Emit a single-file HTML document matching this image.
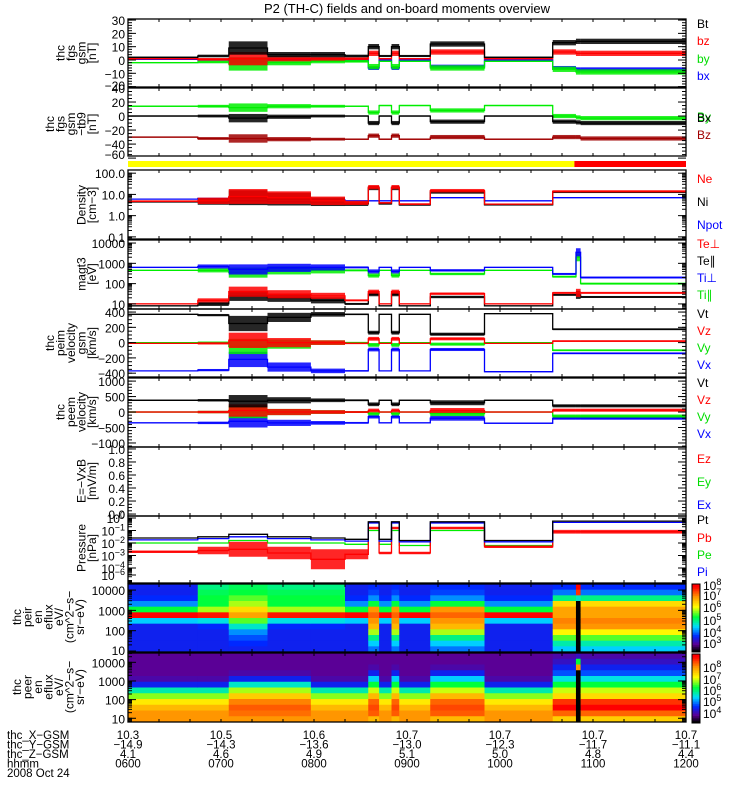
<!DOCTYPE html>
<html><head><meta charset="utf-8">
<style>
html,body{margin:0;padding:0;background:#fff;}
svg{display:block;font-family:"Liberation Sans",sans-serif;}
</style></head>
<body>
<svg id="chart" width="750" height="800" viewBox="0 0 750 800" xmlns="http://www.w3.org/2000/svg">
<text x="407" y="13" font-size="13" text-anchor="middle">P2 (TH-C) fields and on-board moments overview</text>
</svg>
<script>
// ---------- data (segment start minutes after 0600) ----------
const segStart = [0,45,65,90,118,140,155,162,170,175,195,230,274,289,292];
const segEnd = 360;
// fgs gsm [nT]
const bt = [2,3,9,4,4,3,10,3,10,3,12,2,13,14,14];
const btAmp = [0.5,1,5,2,2,1,2,0.8,2,0.8,2,0.5,2,2,2];
const bz = [1,0.5,1,1,1,1,5,1,5,1,6,1,6,5,5];
const bzAmp = [0.5,1,5,2,1.5,1,2,0.5,2,0.5,2,0.5,2,2,2];
const by = [-2,-1.5,-3,-2,-1,-1,-5,-1,-5,-1,-6,-1,-7,-9,-9];
const byAmp = [0.5,1,5,2,1.5,1,2,0.5,2,0.5,2,0.5,2,2,2];
const bx = [0.5,0,-1,0,0,0,-6,0,-6,0,-5,0,-6,-7,-7];
const bxAmp = [0.3,0.5,3,1,1,0.5,1.5,0.3,1.5,0.3,1.5,0.3,1.5,1.5,1.5];
// fgs gsm - t89 [nT]
const dBx = [0,0,-3,-1,0,0,-10,0,-10,0,-8,0,-8,-9,-10];
const dBy = [14,14,12,14,14,14,5,15,5,15,8,15,0,-2,-3];
const dBz = [-30,-32,-32,-33,-33,-33,-28,-33,-28,-33,-30,-33,-30,-30,-32];
const dAmp = [1,2,6,3,2,1,3,1,3,1,3,1,3,3,3];
// density [cm-3]
const ne = [4.8,5,8,7,5,4,22,4,22,3.5,15,3.5,14,14,14];
const ni = [4.5,4.6,7,6,4.5,3.6,20,3.6,20,3.2,13,3.2,13,13,13];
const npot = [6,6.5,5,4.5,5.5,5,5,5,5,5,7,5,7,7,7];
const densAmp = [0.04,0.15,0.35,0.3,0.2,0.1,0.1,0.04,0.1,0.04,0.08,0.03,0.05,0.05,0.05];
// temperatures [eV]
const tiPerp = [630,700,500,600,630,630,400,630,400,630,450,630,300,3500,200];
const tiPar = [450,450,350,450,450,450,250,450,250,450,300,450,220,2000,100];
const tePerp = [10,15,40,30,25,15,40,10,40,10,32,10,35,35,35];
const tePar = [8,10,25,20,15,10,30,8,30,8,22,8,28,28,22];
const tempAmp = [0.03,0.1,0.25,0.2,0.15,0.05,0.1,0.03,0.1,0.03,0.06,0.03,0.05,0.2,0.05];
// ion velocity [km/s]
const viT = [370,360,250,330,370,370,130,370,130,370,110,380,175,175,175];
const viZ = [-10,-10,30,0,0,-10,50,-10,50,-10,50,-10,20,20,20];
const viY = [0,0,-50,-20,0,0,-30,0,-30,0,-20,0,-100,-100,-100];
const viX = [-370,-360,-220,-320,-370,-370,-90,-370,-90,-370,-90,-380,-140,-140,-140];
const viAmp = [5,15,100,60,30,10,25,5,25,5,20,5,12,12,12];
// electron velocity [km/s]
const veT = [380,380,350,380,380,380,250,380,250,380,300,380,200,200,200];
const veZ = [0,0,50,0,0,0,50,0,50,0,50,0,60,60,60];
const veY = [0,0,0,0,0,0,-50,0,-50,0,-50,0,-130,-130,-130];
const veX = [-350,-350,-300,-350,-350,-350,-150,-350,-150,-350,-200,-360,-200,-200,-200];
const veAmp = [20,40,200,100,60,30,60,20,60,20,80,20,50,50,50];
// pressure [nPa] as log10 exponents
const ptExp = [-1.6,-1.5,-1.3,-1.5,-1.6,-1.7,-0.3,-1.7,-0.3,-1.8,-0.3,-1.8,-0.25,-0.25,-0.25];
const piExp = [-1.75,-1.65,-1.5,-1.65,-1.75,-1.85,-0.4,-1.85,-0.4,-1.9,-0.4,-1.9,-0.35,-0.35,-0.35];
const peExp = [-2.0,-2.0,-1.8,-2.0,-2.0,-2.1,-1.0,-2.1,-1.0,-2.2,-1.0,-2.2,-1.1,-1.1,-1.1];
const pbExp = [-2.7,-2.6,-2.5,-2.8,-3.3,-2.9,-0.8,-2.8,-0.8,-2.8,-0.8,-2.3,-1.1,-1.1,-1.1];
const pbAmp = [0.1,0.3,0.6,0.5,0.8,0.4,0.1,0.1,0.1,0.1,0.1,0.1,0.15,0.15,0.15];
// spectrogram profiles (normalized colour level per energy bin, top=high energy)
const ionProfiles = {
  sw:   [0.2,0.2,0.22,0.3,0.5,0.95,0.35,0.2,0.2,0.2,0.2,0.2],
  fore: [0.45,0.48,0.5,0.5,0.6,0.93,0.38,0.22,0.2,0.2,0.2,0.2],
  turb: [0.48,0.5,0.55,0.6,0.7,0.78,0.55,0.4,0.3,0.25,0.22,0.2],
  sh:   [0.22,0.24,0.3,0.5,0.8,0.85,0.8,0.75,0.6,0.45,0.35,0.28],
  sh4:  [0.22,0.28,0.45,0.7,0.78,0.78,0.82,0.8,0.66,0.55,0.42,0.35],
  gap:  [0.95,0.9,0.4,0,0,0,0,0,0,0,0,0]
};
const eleProfiles = {
  sw:   [0.1,0.1,0.1,0.1,0.12,0.2,0.42,0.58,0.68,0.75,0.8,0.8],
  turb: [0.1,0.1,0.1,0.12,0.2,0.4,0.6,0.72,0.82,0.86,0.84,0.8],
  sh:   [0.1,0.1,0.12,0.2,0.35,0.5,0.62,0.75,0.85,0.88,0.86,0.75],
  sh4:  [0.12,0.15,0.2,0.25,0.38,0.5,0.62,0.7,0.9,0.95,0.85,0.72],
  gap:  [0.15,0.5,0.8,0,0,0,0,0,0,0,0,0]
};
const ionSeg = ['sw','fore','turb','fore','fore','sw','sh','sw','sh','sw','sh','sw','sh4','gap','sh4'];
const eleSeg = ['sw','sw','turb','turb','sw','sw','sh','sw','sh','sw','sh','sw','sh4','gap','sh4'];
// ephemeris
const hhmm = ['0600','0700','0800','0900','1000','1100','1200'];
const xGsm = ['10.3','10.5','10.6','10.7','10.7','10.7','10.7'];
const yGsm = ['\u221214.9','\u221214.3','\u221213.6','\u221213.0','\u221212.3','\u221211.7','\u221211.1'];
const zGsm = ['4.1','4.6','4.9','5.1','5.0','4.8','4.4'];

// ---------- layout ----------
const NS = 'http://www.w3.org/2000/svg';
const svg = document.getElementById('chart');
const X0 = 128, X1 = 686;
const xOf = m => X0 + (m/360)*(X1-X0);
function el(tag, attrs, parent){ const e=document.createElementNS(NS,tag); for(const k in attrs) e.setAttribute(k,attrs[k]); (parent||svg).appendChild(e); return e; }
function txt(s,x,y,attrs,parent){ const t=el('text',Object.assign({x:x,y:y,'font-size':12},attrs||{}),parent); t.textContent=s; return t; }

function panel(name, top, bot, dom, isLog){
  const g = el('g',{});
  
  
  const cid = 'clip-'+name;
  const cp = el('clipPath',{id:cid},g); el('rect',{x:X0,y:top,width:X1-X0,height:bot-top},cp);
  const inner = el('g',{'clip-path':'url(#'+cid+')'},g);
  const yOf = v => { const u = isLog ? Math.log10(v) : v; return bot - (u-dom[0])/(dom[1]-dom[0])*(bot-top); };
  const yExp = u => bot - (u-dom[0])/(dom[1]-dom[0])*(bot-top);
  return {g, inner, top, bot, yOf, yExp, dom, isLog};
}
function series(p, name, vals, amp, color, mode){
  // mode: 'lin' value/amp linear ; 'log' value linear, amp log ; 'exp' value exponent
  const gy = el('g',{},p.inner);
  
  
  let d='';
  for(let i=0;i<vals.length;i++){
    const x0=xOf(segStart[i]), x1=xOf(i+1<segStart.length?segStart[i+1]:segEnd);
    let yv, ya, yb;
    if(mode==='exp'){ yv=p.yExp(vals[i]); if(amp){ya=p.yExp(vals[i]+amp[i]); yb=p.yExp(vals[i]-amp[i]);} }
    else if(mode==='log'){ const u=Math.log10(vals[i]); yv=p.yExp(u); if(amp){ya=p.yExp(u+amp[i]); yb=p.yExp(u-amp[i]);} }
    else { yv=p.yOf(vals[i]); if(amp){ya=p.yOf(vals[i]+amp[i]); yb=p.yOf(vals[i]-amp[i]);} }
    if(amp){
      const r = el('rect',{x:x0,y:Math.min(ya,yb),width:x1-x0,height:Math.max(1,Math.abs(yb-ya)),fill:color,opacity:0.85},gy);
      
      
    }
    d += (i===0?'M':'L')+x0.toFixed(1)+' '+yv.toFixed(1)+' H'+x1.toFixed(1)+' ';
  }
  el('path',{d:d,fill:'none',stroke:color,'stroke-width':1.3},gy);
}
function frame(p, ticks, minors){
  el('rect',{x:X0,y:p.top,width:X1-X0,height:p.bot-p.top,fill:'none',stroke:'#000','stroke-width':1.3},p.g);
  for(let m=20;m<360;m+=20){
    const x=xOf(m);
    el('line',{x1:x,y1:p.top,x2:x,y2:p.top+3,stroke:'#000'},p.g);
    el('line',{x1:x,y1:p.bot,x2:x,y2:p.bot-3,stroke:'#000'},p.g);
  }
  (minors||[]).forEach(y=>{ if(y>p.top&&y<p.bot){
    el('line',{x1:X0,y1:y,x2:X0+4,y2:y,stroke:'#000'},p.g);
    el('line',{x1:X1,y1:y,x2:X1-4,y2:y,stroke:'#000'},p.g);}});
  ticks.forEach(t=>{
    const y=t.y;
    el('line',{x1:X0,y1:y,x2:X0+8,y2:y,stroke:'#000'},p.g);
    el('line',{x1:X1,y1:y,x2:X1-8,y2:y,stroke:'#000'},p.g);
    const lab = txt(t.label,125,Math.min(y+5,p.bot+3),{'text-anchor':'end'},p.g);
    
    
    if(t.sup){ const s=el('tspan',{dy:-5,'font-size':9},lab); s.textContent=t.sup; }
  });
}
function linTicks(p, vals){ return vals.map(v=>({y:p.yOf(v),label:String(v).replace('-','\u2212')})); }
function linMinor(p, step){ const a=[]; for(let v=Math.ceil(p.dom[0]/step)*step; v<=p.dom[1]; v+=step) a.push(p.yOf(v)); return a; }
function logMinor(p){ const a=[]; for(let e=Math.floor(p.dom[0]);e<=Math.ceil(p.dom[1]);e++) for(let k=1;k<10;k++) a.push(p.yExp(e+Math.log10(k))); return a; }
function ylabel(lines, cy, name, lastX){
  const g=el('g',{});
  
  
  const n=lines.length;
  lines.forEach((s,i)=>{ const x=lastX-(n-1-i)*10.5; txt(s,x,cy,{'text-anchor':'middle',transform:'rotate(-90 '+x+' '+cy+')','font-size':12},g); });
}
function legend(items){
  items.forEach(it=>{ const t=txt(it[0],697,it[2],{fill:it[1],'font-size':12});
    
     });
}

// ---- Panel 1: fgs gsm ----
const p1 = panel('fgs-gsm-panel',19,87,[-20.3,30.8],false);
series(p1,'bx-series',bx,bxAmp,'#0000ff','lin');
series(p1,'by-series',by,byAmp,'#00ee00','lin');
series(p1,'bz-series',bz,bzAmp,'#ff0000','lin');
series(p1,'bt-series',bt,btAmp,'#000000','lin');
frame(p1,linTicks(p1,[30,20,10,0,-10,-20]),linMinor(p1,2));
ylabel(['thc','fgs','gsm','[nT]'],53,'fgs-y-axis-title',96);
legend([['Bt','#000',28,'bt'],['bz','#ff0000',45,'bz'],['by','#00dd00',63,'by'],['bx','#0000ff',80,'bx']]);

// ---- Panel 2: fgs - t89 ----
const p2 = panel('fgs-t89-panel',88,156,[-57,40],false);
series(p2,'dby-series',dBy,dAmp,'#00ee00','lin');
series(p2,'dbx-series',dBx,dAmp,'#000000','lin');
series(p2,'dbz-series',dBz,dAmp,'#a00000','lin');
frame(p2,linTicks(p2,[40,20,0,-20,-40,-60]),linMinor(p2,5));
ylabel(['thc','fgs','gsm','\u2212tb9','[nT]'],124,'fgs-t89-y-axis-title',96);
legend([['By','#00dd00',121,'by-t89'],['Bx','#000',122,'bx-t89'],['Bz','#a00000',139,'bz-t89']]);

// ---- mode bar ----
const mb=el('g',{});  
el('rect',{x:X0,y:161,width:xOf(288)-X0,height:6,fill:'#ffff00'},mb);
el('rect',{x:xOf(288),y:161,width:X1-xOf(288),height:6,fill:'#ff0000'},mb);

// ---- Panel 3: density ----
const p3 = panel('density-panel',170,239,[-1.1,2.15],true);
series(p3,'npot-series',npot,null,'#0000ff','log');
series(p3,'ni-series',ni,densAmp,'#000000','log');
series(p3,'ne-series',ne,densAmp,'#ff0000','log');
frame(p3,[{y:p3.yExp(2),label:'100.0'},{y:p3.yExp(1),label:'10.0'},{y:p3.yExp(0),label:'1.0'},{y:p3.yExp(-1),label:'0.1'}],logMinor(p3));
ylabel(['Density','[cm\u22123]'],205,'density-y-axis-title',96);
legend([['Ne','#ff0000',183,'ne'],['Ni','#000',206,'ni'],['Npot','#0000ff',229,'npot']]);

// ---- Panel 4: temperatures ----
const p4 = panel('temperature-panel',240,309,[0.75,4.15],true);
series(p4,'ti-par-series',tiPar,tempAmp,'#00ee00','log');
series(p4,'ti-perp-series',tiPerp,tempAmp,'#0000ff','log');
series(p4,'te-par-series',tePar,tempAmp,'#000000','log');
series(p4,'te-perp-series',tePerp,tempAmp,'#ff0000','log');
frame(p4,[{y:p4.yExp(4),label:'10000'},{y:p4.yExp(3),label:'1000'},{y:p4.yExp(2),label:'100'},{y:p4.yExp(1),label:'10'}],logMinor(p4));
ylabel(['magt3','[eV]'],274,'temperature-y-axis-title',96);
legend([['Te\u22a5','#ff0000',248,'te-perp'],['Te\u2225','#000',265,'te-par'],['Ti\u22a5','#0000ff',282,'ti-perp'],['Ti\u2225','#00dd00',299,'ti-par']]);

// ---- Panel 5: ion velocity ----
const p5 = panel('ion-velocity-panel',309,377,[-450,440],false);
series(p5,'vix-series',viX,viAmp,'#0000ff','lin');
series(p5,'viy-series',viY,viAmp,'#00ee00','lin');
series(p5,'viz-series',viZ,viAmp,'#ff0000','lin');
series(p5,'vit-series',viT,viAmp,'#000000','lin');
frame(p5,linTicks(p5,[400,200,0,-200,-400]),linMinor(p5,50));
ylabel(['thc','peim','velocity','gsm','[km/s]'],343,'ion-velocity-y-axis-title',96);
legend([['Vt','#000',318,'vit'],['Vz','#ff0000',335,'viz'],['Vy','#00dd00',352,'viy'],['Vx','#0000ff',369,'vix']]);

// ---- Panel 6: electron velocity ----
const p6 = panel('electron-velocity-panel',378,447,[-1130,1100],false);
series(p6,'vex-series',veX,veAmp,'#0000ff','lin');
series(p6,'vey-series',veY,veAmp,'#00ee00','lin');
series(p6,'vez-series',veZ,veAmp,'#ff0000','lin');
series(p6,'vet-series',veT,veAmp,'#000000','lin');
frame(p6,linTicks(p6,[1000,500,0,-500,-1000]),linMinor(p6,100));
ylabel(['thc','peem','velocity','[km/s]'],412,'electron-velocity-y-axis-title',96);
legend([['Vt','#000',387,'vet'],['Vz','#ff0000',404,'vez'],['Vy','#00dd00',421,'vey'],['Vx','#0000ff',438,'vex']]);

// ---- Panel 7: E field (empty) ----
const p7 = panel('efield-panel',447,516,[-0.03,1.03],false);
frame(p7,[1.0,0.8,0.6,0.4,0.2,0.0].map(v=>({y:p7.yOf(v),label:v.toFixed(1)})),linMinor(p7,0.05));
ylabel(['E=\u2212VxB','[mV/m]'],481,'efield-y-axis-title',96);
legend([['Ez','#ff0000',463,'ez'],['Ey','#00dd00',486,'ey'],['Ex','#0000ff',509,'ex']]);

// ---- Panel 8: pressure ----
const p8 = panel('pressure-panel',516,583,[-5.2,0.16],true);
series(p8,'pe-series',peExp,null,'#00ee00','exp');
series(p8,'pb-series',pbExp,pbAmp,'#ff0000','exp');
series(p8,'pi-series',piExp,null,'#0000ff','exp');
series(p8,'pt-series',ptExp,null,'#000000','exp');
frame(p8,[0,-1,-2,-3,-4].map(e=>({y:p8.yExp(e),label:'10',sup:String(e).replace('-','\u2212')})).concat([{y:575,label:'10',sup:'\u22126'}]),logMinor(p8));
ylabel(['Pressure','[nPa]'],548,'pressure-y-axis-title',96);
legend([['Pt','#000',524,'pt'],['Pb','#ff0000',542,'pb'],['Pe','#00dd00',559,'pe'],['Pi','#0000ff',576,'pi']]);

// ---- colormap ----
const cstops=[[0,[0,0,0]],[0.1,[90,0,150]],[0.22,[0,40,255]],[0.36,[0,220,255]],[0.5,[0,255,60]],[0.65,[255,255,0]],[0.8,[255,150,0]],[0.95,[255,0,0]],[1,[255,0,0]]];
function cmap(t){ t=Math.max(0,Math.min(1,t)); for(let i=1;i<cstops.length;i++){ if(t<=cstops[i][0]){ const a=cstops[i-1],b=cstops[i],f=(t-a[0])/(b[0]-a[0]||1); return 'rgb('+a[1].map((c,k)=>Math.round(c+(b[1][k]-c)*f)).join(',')+')'; } } return 'rgb(255,0,0)'; }

function spectro(p, profiles, segs, name){
  const nb=12, h=(p.bot-p.top)/nb;
  for(let i=0;i<segs.length;i++){
    const x0=xOf(segStart[i]), x1=xOf(i+1<segStart.length?segStart[i+1]:segEnd);
    const prof=profiles[segs[i]];
    for(let b=0;b<nb;b++){
      const r=el('rect',{x:x0,y:p.top+b*h,width:x1-x0+0.5,height:h+0.5,fill:cmap(prof[b])},p.inner);
      
      
    }
  }
}
const p9 = panel('ion-spectrogram-panel',584,652,[0.95,4.3],true);
spectro(p9,ionProfiles,ionSeg,'ion-spectrogram');
frame(p9,[{y:p9.yExp(4),label:'10000'},{y:p9.yExp(3),label:'1000'},{y:p9.yExp(2),label:'100'},{y:p9.yExp(1),label:'10'}],logMinor(p9));
ylabel(['thc','peir','en','eflux','eV/','(cm^2\u2212s\u2212','sr\u2212eV)'],617,'ion-spectrogram-y-axis-title',84);

const p10 = panel('electron-spectrogram-panel',653,722,[0.8,4.5],true);
spectro(p10,eleProfiles,eleSeg,'electron-spectrogram');
frame(p10,[{y:p10.yExp(4),label:'10000'},{y:p10.yExp(3),label:'1000'},{y:p10.yExp(2),label:'100'},{y:p10.yExp(1),label:'10'}],logMinor(p10));
ylabel(['thc','peer','en','eflux','eV/','(cm^2\u2212s\u2212','sr\u2212eV)'],687,'electron-spectrogram-y-axis-title',84);

// colorbars
function colorbar(y0,y1,labels,name){
  const g=el('g',{});  
  const n=40;
  for(let i=0;i<n;i++){ const t=1-i/(n-1); el('rect',{x:692,y:y0+i*(y1-y0)/n,width:8,height:(y1-y0)/n+0.5,fill:cmap(t*0.98)},g); }
  el('rect',{x:692,y:y0,width:8,height:y1-y0,fill:'none',stroke:'#000'},g);
  labels.forEach(l=>{ const t=txt('10',703,l[1],{'font-size':12},g); const s=el('tspan',{dy:-5,'font-size':9},t); s.textContent=l[0]; });
}
colorbar(584,652,[['8',590],['7',600],['6',612],['5',625],['4',637],['3',648]],'ion-colorbar');
colorbar(654,723,[['8',672],['7',684],['6',695],['5',706],['4',718]],'electron-colorbar');

// ephemeris labels
const eph=el('g',{});  
['thc_X\u2212GSM','thc_Y\u2212GSM','thc_Z\u2212GSM','hhmm','2008 Oct 24'].forEach((s,i)=>txt(s,7,739+i*9.5,{'font-size':11.5},eph));
[xGsm,yGsm,zGsm,hhmm].forEach((arr,r)=>arr.forEach((s,i)=>txt(s,xOf(i*60),739+r*9.5,{'font-size':11.5,'text-anchor':'middle'},eph)));
</script>
</body></html>
